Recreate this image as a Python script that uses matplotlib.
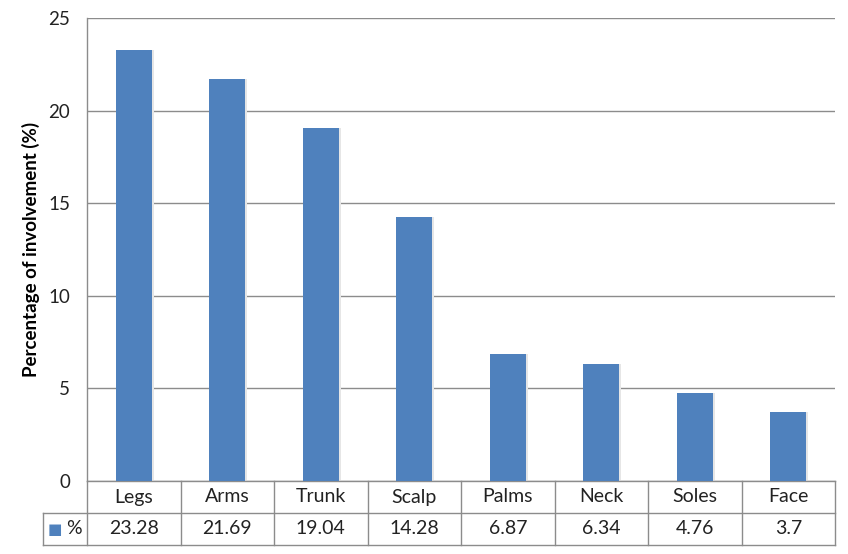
import numpy as np
import matplotlib
matplotlib.use("Agg")
import matplotlib.pyplot as plt
from matplotlib.transforms import blended_transform_factory

# data
sites = ["Legs", "Arms", "Trunk", "Scalp", "Palms", "Neck", "Soles", "Face"]
percent = [23.28, 21.69, 19.04, 14.28, 6.87, 6.34, 4.76, 3.7]
percent_labels = ["23.28", "21.69", "19.04", "14.28", "6.87", "6.34", "4.76", "3.7"]
yticks = [0, 5, 10, 15, 20, 25]

bar_color = "#4F81BD"
line_color = "#8C8C8C"
text_color = "#222222"

plt.rcParams["font.family"] = ["Lato", "DejaVu Sans"]

W, H = 848, 554
fig = plt.figure(figsize=(W / 100, H / 100), dpi=100)

# plot area in pixels: x 87..835, y 18..481
ax = fig.add_axes([87 / W, (H - 481) / H, (835 - 87) / W, (481 - 18) / H])

x = np.arange(len(sites))
# soft shadow then bar
ax.bar(x + 0.02, percent, width=0.39, color="#E6E6E6", zorder=2)
ax.bar(x, percent, width=0.38, color=bar_color, zorder=3)

ax.set_xlim(-0.5, len(sites) - 0.5)
ax.set_ylim(0, 25)
ax.set_yticks(yticks)
ax.set_yticklabels([str(v) for v in yticks], fontsize=13.5, color=text_color)
ax.set_xticks([])
ax.tick_params(axis="y", length=0, pad=12)
ax.grid(axis="y", color=line_color, linewidth=1, zorder=0)

for side in ["top", "right", "bottom"]:
    ax.spines[side].set_visible(False)
ax.spines["left"].set_color(line_color)
ax.spines["left"].set_linewidth(1)

ax.set_ylabel("Percentage of involvement (%)", fontsize=13.5, fontweight="bold", labelpad=6)

# data table under the axis (x in data units, y in pixels from the top)
tr = blended_transform_factory(ax.transData, fig.transFigure)
def fy(px):
    return (H - px) / H

row_top, row_mid, row_bot = 481, 513, 545
x_left_key = ax.transData.inverted().transform(fig.transFigure.transform((43 / W, 0)))[0]
n = len(sites)

kw = dict(color=line_color, linewidth=1, transform=tr, clip_on=False)
ax.plot([-0.5, n - 0.5], [fy(row_top)] * 2, **kw)
ax.plot([x_left_key, n - 0.5], [fy(row_mid)] * 2, **kw)
ax.plot([x_left_key, n - 0.5], [fy(row_bot)] * 2, **kw)
for i in range(n + 1):
    ax.plot([i - 0.5] * 2, [fy(row_top), fy(row_bot)], **kw)
ax.plot([x_left_key] * 2, [fy(row_mid), fy(row_bot)], **kw)

for i in range(n):
    ax.text(i, fy((row_top + row_mid) / 2), sites[i], ha="center", va="center",
            fontsize=14, color=text_color, transform=tr)
    ax.text(i, fy((row_mid + row_bot) / 2), percent_labels[i], ha="center", va="center",
            fontsize=14, color=text_color, transform=tr)

# legend key in the row header
fig.text(55 / W, fy(529), "■", color=bar_color, fontsize=11,
         ha="center", va="center", family="DejaVu Sans")
fig.text(74 / W, fy(529), "%", color=text_color, fontsize=14,
         ha="center", va="center")

fig.savefig("out.png", dpi=100)
